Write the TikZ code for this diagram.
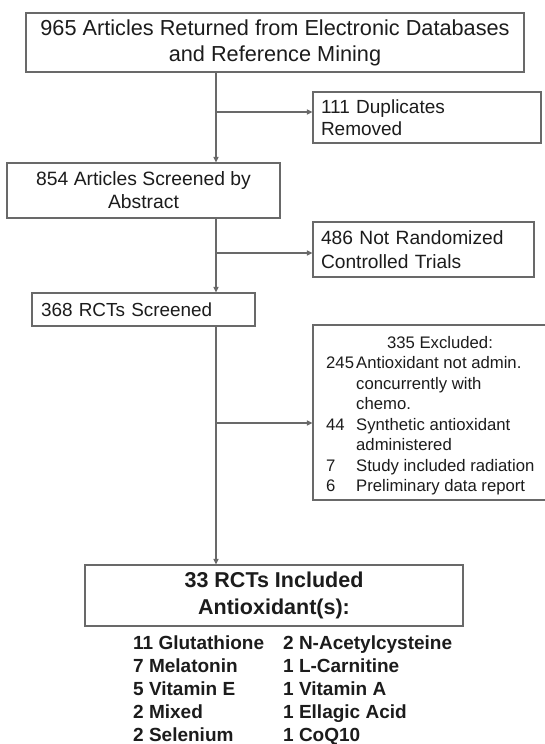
\documentclass[tikz,border=0pt]{standalone}
\usepackage{fontspec}
\setmainfont{Liberation Sans}
\usetikzlibrary{arrows.meta}
\definecolor{lc}{RGB}{105,105,105}
\definecolor{tc}{RGB}{28,28,28}
\tikzset{
  box/.style={draw=lc, line width=1.2pt, text=tc, inner sep=0pt, rectangle},
  lbox/.style={box, align=left, inner xsep=8pt},
  arr/.style={draw=lc, line width=1.2pt, -{Triangle[length=5.5pt,width=5pt]}},
  lbl/.style={anchor=base west, inner sep=0pt, text=tc},
  exf/.style={font=\fontsize{16.7pt}{20.6pt}\selectfont},
  lsf/.style={font=\bfseries\fontsize{19pt}{23pt}\selectfont},
}
\begin{document}
\begin{tikzpicture}[x=1pt,y=-1pt]
\useasboundingbox[fill=white] (0,0) rectangle (545,744);

% boxes
\node[box, align=center, minimum width=498pt, minimum height=59pt,
      font=\fontsize{21.7pt}{26pt}\selectfont] (b1) at (275,42.5)
  {965 Articles Returned from Electronic Databases\\and Reference Mining};
\node[lbox, text width=212pt, minimum height=51pt,
      font=\fontsize{19pt}{22pt}\selectfont] (dup) at (427,117.5)
  {111 Duplicates\\Removed};
\node[box, align=center, minimum width=273pt, minimum height=55pt,
      font=\fontsize{19.3pt}{23pt}\selectfont] (b2) at (143.5,190.5)
  {854 Articles Screened by\\Abstract};
\node[lbox, text width=205pt, minimum height=55pt,
      font=\fontsize{19.2pt}{24pt}\selectfont] (nr) at (423.5,249.5)
  {486 Not Randomized\\Controlled Trials};
\node[lbox, text width=205pt, inner xsep=9pt, minimum height=33pt,
      font=\fontsize{18.9pt}{22pt}\selectfont] (b3) at (143.5,309.5)
  {368 RCTs Screened};
\node[box, minimum width=234pt, minimum height=175pt] (ex) at (430,412.5) {};
\node[box, align=center, minimum width=378pt, minimum height=61pt,
      font=\bfseries\fontsize{21.5pt}{27pt}\selectfont] (b4) at (274,595.5)
  {33 RCTs Included\\Antioxidant(s):};

% excluded details
\node[exf, anchor=base, inner sep=0pt, text=tc] (e0) at (440,348) {335 Excluded:};
\node[exf, lbl] (e1n) at (326,368.5) {245};
\node[exf, lbl] (e1) at (356,368.5) {Antioxidant not admin.};
\node[exf, lbl] (e1b) at (356,389) {concurrently with};
\node[exf, lbl] (e1c) at (356,409.5) {chemo.};
\node[exf, lbl] (e2n) at (326,430) {44};
\node[exf, lbl] (e2) at (356,430) {Synthetic antioxidant};
\node[exf, lbl] (e2b) at (356,450.5) {administered};
\node[exf, lbl] (e3n) at (326,471) {7};
\node[exf, lbl] (e3) at (356,471) {Study included radiation};
\node[exf, lbl] (e4n) at (326,491.5) {6};
\node[exf, lbl] (e4) at (356,491.5) {Preliminary data report};

% antioxidant list
\node[lsf, lbl] (l1) at (133,649) {11 Glutathione};
\node[lsf, lbl] (l2) at (133,672) {7 Melatonin};
\node[lsf, lbl] (l3) at (133,695) {5 Vitamin E};
\node[lsf, lbl] (l4) at (133,718) {2 Mixed};
\node[lsf, lbl] (l5) at (133,741) {2 Selenium};
\node[lsf, lbl] (r1) at (283,649) {2 N-Acetylcysteine};
\node[lsf, lbl] (r2) at (283,672) {1 L-Carnitine};
\node[lsf, lbl] (r3) at (283,695) {1 Vitamin A};
\node[lsf, lbl] (r4) at (283,718) {1 Ellagic Acid};
\node[lsf, lbl] (r5) at (283,741) {1 CoQ10};

% connectors
\coordinate (m) at (216,0);
\coordinate (j1) at (216,112);
\coordinate (j2) at (216,253);
\coordinate (j3) at (216,423);
\draw[arr] (b1.south -| m) -- (b2.north -| m);
\draw[arr] (j1) -- (j1 -| dup.west);
\draw[arr] (b2.south -| m) -- (b3.north -| m);
\draw[arr] (j2) -- (j2 -| nr.west);
\draw[arr] (b3.south -| m) -- (b4.north -| m);
\draw[arr] (j3) -- (j3 -| ex.west);
\end{tikzpicture}
\end{document}
